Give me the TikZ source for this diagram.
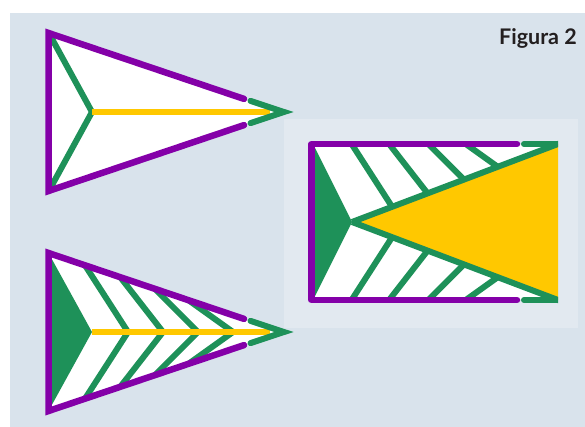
\documentclass[tikz,border=0pt]{standalone}
\usepackage{fontspec}
\newfontfamily\figfont{Lato}
\definecolor{panel}{HTML}{D9E3EC}
\definecolor{panelB}{HTML}{E2E9F0}
\definecolor{purp}{HTML}{8400A8}
\definecolor{grn}{HTML}{1E9159}
\definecolor{yel}{HTML}{FFC800}
\definecolor{txt}{HTML}{231F20}
\tikzset{
  purpline/.style={draw=purp, line width=6.5pt, line join=miter},
  grnline/.style={draw=grn, line width=6pt, line join=miter},
  yelline/.style={draw=yel, line width=6pt},
  title/.style={font=\figfont\bfseries\fontsize{21.5}{21.5}\selectfont, text=txt, inner sep=0pt}
}
\begin{document}
\begin{tikzpicture}[x=1pt,y=-1pt]
\useasboundingbox (0,0) rectangle (585,427);
\fill[white] (0,0) rectangle (585,427);
\fill[panel] (10,13) rectangle (585,427);
\fill[panelB] (284,119) rectangle (578,328);

\node[title, anchor=base east] (ttl) at (577,45) {Figura 2};

% ---------- Figure 1 (top triangle) ----------
\begin{scope}
\coordinate (a1) at (48.5,33);
\coordinate (b1) at (48.5,191);
\coordinate (t1) at (284,112);
\coordinate (y1) at (92,112);
\fill[white] (a1) -- (t1) -- (b1) -- cycle;
\draw[grnline] (51,37) -- (y1) -- (51,187);
\draw[yelline] (y1) -- (270,112);
\draw[purpline, line cap=round] (244,98.9) -- (a1) -- (b1) -- (244,125.1);
\draw[grnline, line cap=round] (250.5,100.9) -- (t1) -- (250.5,123.1);
\end{scope}

% ---------- Figure 3 (bottom triangle) ----------
\begin{scope}
\coordinate (a3) at (48.5,253);
\coordinate (b3) at (48.5,411);
\coordinate (t3) at (284,332);
\coordinate (y3) at (92,332);
\fill[white] (a3) -- (t3) -- (b3) -- cycle;
\fill[grn] (a3) -- (y3) -- (b3) -- cycle;
\draw[grnline] (85,265.3) -- (128,332) -- (85,398.7);
\draw[grnline] (120.3,277.2) -- (163,332) -- (120.3,386.8);
\draw[grnline] (154.8,288.8) -- (198,332) -- (154.8,375.2);
\draw[grnline] (188.5,300.2) -- (233,332) -- (188.5,363.8);
\draw[yelline] (y3) -- (270,332);
\draw[purpline, line cap=round] (244,318.9) -- (a3) -- (b3) -- (244,345.1);
\draw[grnline, line cap=round] (250.5,320.9) -- (t3) -- (250.5,343.1);
\end{scope}

% ---------- Figure 2 (rectangle) ----------
\begin{scope}
\coordinate (ra) at (352,222);
\fill[white] (311.5,144) rectangle (558,300);
\fill[yel] (ra) -- (558,144) -- (558,300) -- cycle;
\fill[grn] (313,144) -- (ra) -- (313,300) -- cycle;
\begin{scope}
\clip (300,130) rectangle (558,315);
\draw[grnline] (351.6,144) -- (392.1,206.8);
\draw[grnline] (389.1,144) -- (427.6,193.4);
\draw[grnline] (428.3,144) -- (463.9,179.6);
\draw[grnline] (465.8,144) -- (497.7,166.8);
\draw[grnline] (351.6,300) -- (392.1,237.2);
\draw[grnline] (389.1,300) -- (427.6,250.6);
\draw[grnline] (428.3,300) -- (463.9,264.4);
\draw[grnline] (465.8,300) -- (497.7,277.2);
\draw[grnline] (ra) -- (559,143.6);
\draw[grnline] (ra) -- (559,300.4);
\end{scope}
\draw[purpline, line cap=round, line join=round] (517,144) -- (311.5,144) -- (311.5,300) -- (517,300);
\draw[grnline, line cap=round] (524,144) -- (553,144);
\draw[grnline] (552,144) -- (558,144);
\draw[grnline, line cap=round] (524,300) -- (553,300);
\draw[grnline] (552,300) -- (558,300);
\end{scope}
\end{tikzpicture}
\end{document}
